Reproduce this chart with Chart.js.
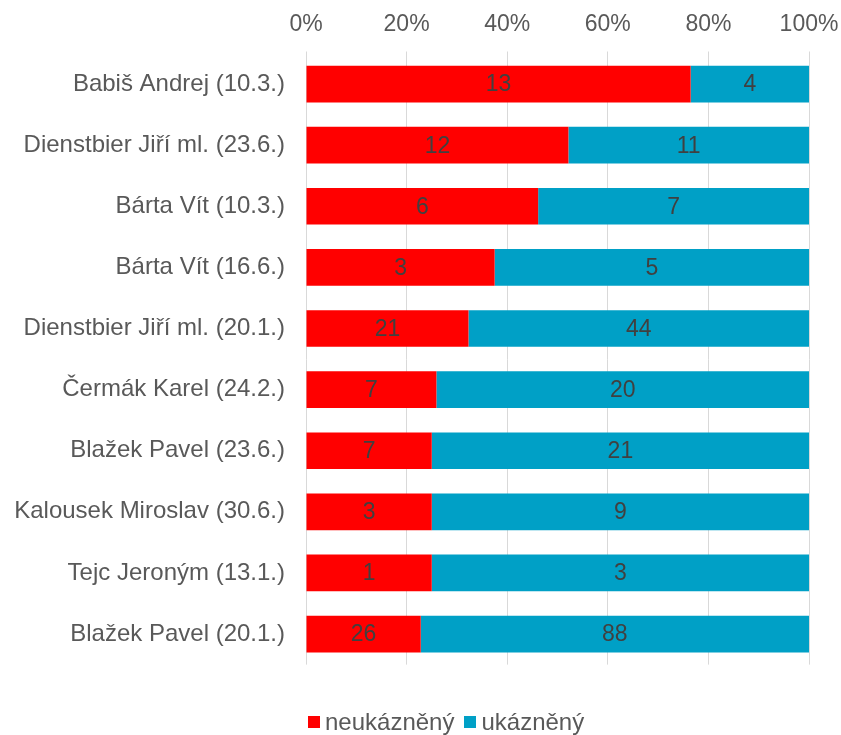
<!DOCTYPE html>
<html><head><meta charset="utf-8">
<script src="https://cdn.jsdelivr.net/npm/chart.js@4/dist/chart.umd.min.js"></script>
<style>
html,body{margin:0;padding:0;background:#fff}
#wrap{position:relative;width:841px;height:735px}
#legend{position:absolute;left:308px;top:710px;height:24px;display:flex;align-items:center;
  font-family:'Liberation Sans',Arial,sans-serif;font-size:24px;line-height:24px;color:#595959;white-space:nowrap}
#legend .item{display:flex;align-items:center;margin-right:10px}
#legend .box{width:12px;height:12px;margin-right:5px;flex:none}
</style>
</head><body>
<div id="wrap">
<canvas id="c" width="841" height="735"></canvas>
<div id="legend"></div>
</div>
<script>
const categories = [
  "Babiš Andrej (10.3.)",
  "Dienstbier Jiří ml. (23.6.)",
  "Bárta Vít (10.3.)",
  "Bárta Vít (16.6.)",
  "Dienstbier Jiří ml. (20.1.)",
  "Čermák Karel (24.2.)",
  "Blažek Pavel (23.6.)",
  "Kalousek Miroslav (30.6.)",
  "Tejc Jeroným (13.1.)",
  "Blažek Pavel (20.1.)"
];
const seriesNames = ["neukázněný", "ukázněný"];
const neukazneny = [13, 12, 6, 3, 21, 7, 7, 3, 1, 26];
const ukazneny = [4, 11, 7, 5, 44, 20, 21, 9, 3, 88];
const tickValues = [0, 20, 40, 60, 80, 100];
const colors = ["#FF0000", "#00A0C6"];

const totals = neukazneny.map((v, i) => v + ukazneny[i]);
const pct = arr => arr.map((v, i) => v / totals[i] * 100);
const counts = [neukazneny, ukazneny];

const FONT = "'Liberation Sans', Arial, sans-serif";
const GRAY = "#595959";

const labelPlugin = {
  id: 'barLabels',
  afterDatasetsDraw(chart) {
    const ctx = chart.ctx;
    ctx.save();
    ctx.font = "23px " + FONT;
    ctx.fillStyle = "#404040";
    ctx.textAlign = "center";
    ctx.textBaseline = "middle";
    chart.data.datasets.forEach((ds, di) => {
      const meta = chart.getDatasetMeta(di);
      meta.data.forEach((el, i) => {
        const p = el.getProps(['x', 'y', 'base'], true);
        const cx = (p.x + p.base) / 2;
        ctx.fillText(String(counts[di][i]), cx, p.y + 1);
      });
    });
    ctx.restore();
  }
};

const chart = new Chart(document.getElementById('c'), {
  type: 'bar',
  data: {
    labels: categories,
    datasets: [
      { label: seriesNames[0], data: pct(neukazneny), backgroundColor: colors[0], borderWidth: 0, barPercentage: 0.6, categoryPercentage: 1 },
      { label: seriesNames[1], data: pct(ukazneny), backgroundColor: colors[1], borderWidth: 0, barPercentage: 0.6, categoryPercentage: 1 }
    ]
  },
  options: {
    indexAxis: 'y',
    responsive: false,
    animation: false,
    layout: { padding: { left: 0, right: 32, top: 0, bottom: 70.4 } },
    scales: {
      x: {
        position: 'top',
        stacked: true,
        min: 0, max: 100,
        afterBuildTicks: s => { s.ticks = tickValues.map(v => ({ value: v })); },
        afterFit: s => { s.height = 53.5; s.paddingLeft = 0; s.paddingRight = 0; },
        ticks: { callback: v => v + '%', font: { size: 23, family: FONT }, color: GRAY, padding: 13 },
        grid: { color: '#D9D9D9', lineWidth: 1, tickLength: 2 },
        border: { display: false }
      },
      y: {
        stacked: true,
        afterFit: s => { s.width = 306; },
        ticks: { font: { size: 24, family: FONT }, color: GRAY, padding: 21 },
        grid: { display: false, drawTicks: false },
        border: { display: false }
      }
    },
    plugins: {
      legend: { display: false },
      tooltip: { enabled: false }
    }
  },
  plugins: [labelPlugin]
});

const legendEl = document.getElementById('legend');
chart.data.datasets.forEach(ds => {
  const item = document.createElement('span');
  item.className = 'item';
  const box = document.createElement('span');
  box.className = 'box';
  box.style.background = ds.backgroundColor;
  const txt = document.createElement('span');
  txt.textContent = ds.label;
  item.appendChild(box);
  item.appendChild(txt);
  legendEl.appendChild(item);
});
</script>
</body></html>
